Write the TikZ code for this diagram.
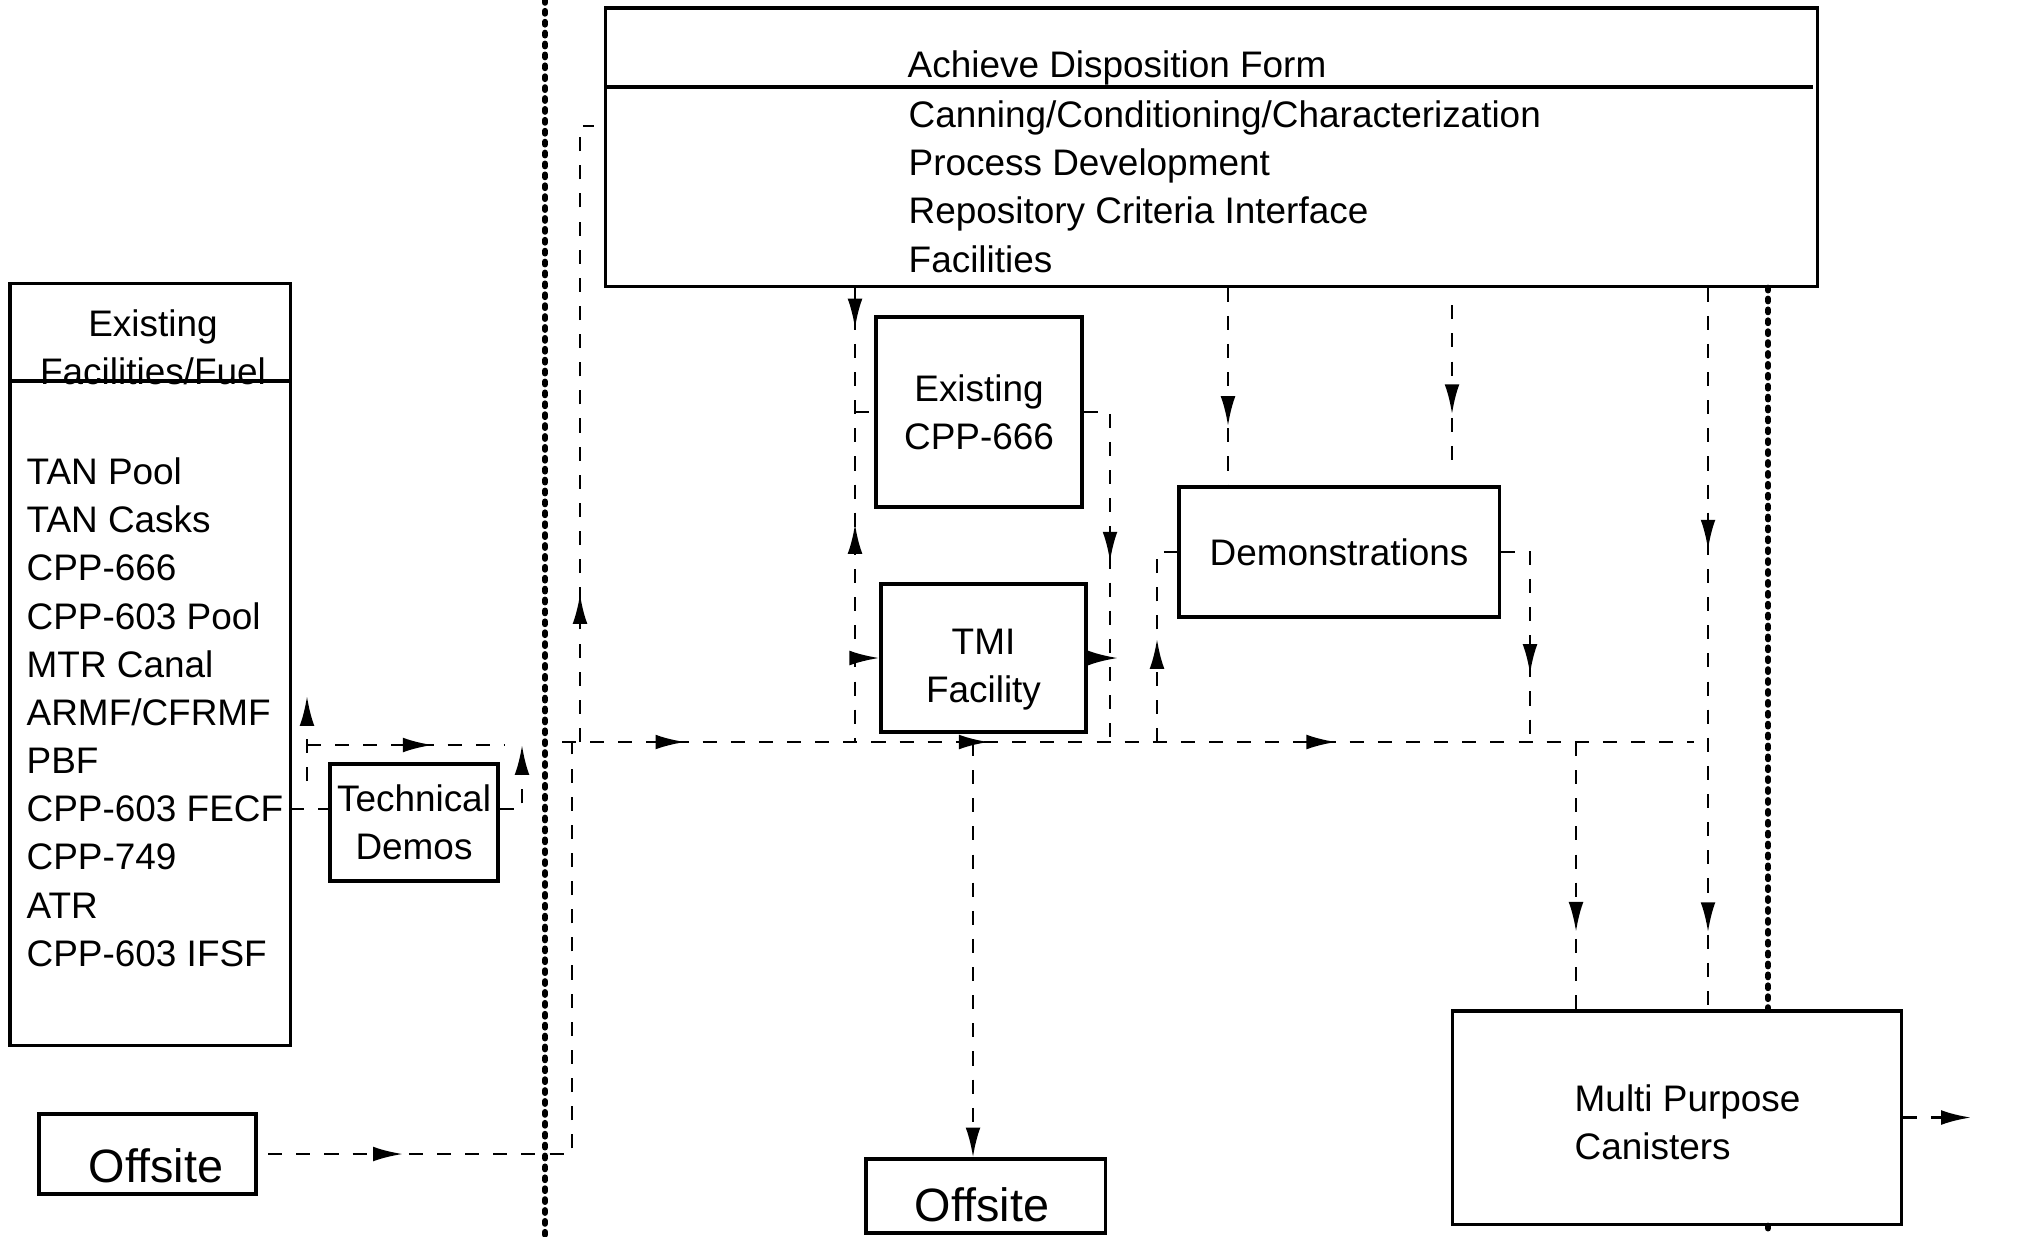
\documentclass[tikz,border=0pt]{standalone}
\usepackage{fontspec}
\setmainfont{Liberation Sans}
\usetikzlibrary{arrows.meta,decorations.markings}

\tikzset{
  box/.style={draw, line width=0.9pt, inner sep=0pt, align=center},
  flow/.style={line width=0.8pt, dash pattern=on 4pt off 4pt},
  fwd/.style={postaction={decorate,decoration={markings,mark=at position #1 with {\arrow{>}}}}},
  bwd/.style={postaction={decorate,decoration={markings,mark=at position #1 with {\arrowreversed{>}}}}},
  sep/.style={line width=1.7pt, dash pattern=on 0.8pt off 2.3pt, line cap=round},
  bigtext/.style={font=\fontsize{13.3}{16}\selectfont},
}

\begin{document}
\begin{tikzpicture}[x=0.01cm, y=-0.01cm, >={Latex[length=8.5pt,width=4.2pt]}, font=\fontsize{10.5}{13.7}\selectfont]
        \useasboundingbox (0,0) rectangle (2040,1236);

        % top box
        \node[box, minimum width=12.11cm, minimum height=2.78cm] at (1211.5,147) (top) {};
        \node[anchor=base west, inner sep=0pt] at (907,77) (title) {Achieve Disposition Form};
        \draw[line width=0.9pt] (606,87) -- (1813,87);
        \node[anchor=north west, inner sep=0pt, align=left] at (908,100) (tasks) {Canning/Conditioning/Characterization\\Process Development\\Repository Criteria Interface\\Facilities};

        % existing facilities
        \node[box, minimum width=2.8cm, minimum height=7.61cm] at (150,664.5) (fac) {};
        \node[align=center, inner sep=0pt] at (153,347) (fachead) {Existing\\Facilities/Fuel};
        \draw[line width=0.9pt] (10,381) -- (290,381);
        \node[anchor=north west, inner sep=0pt, align=left] at (26,457) (faclist) {TAN Pool\\TAN Casks\\CPP-666\\CPP-603 Pool\\MTR Canal\\ARMF/CFRMF\\PBF\\CPP-603 FECF\\CPP-749\\ATR\\CPP-603 IFSF};

        \node[box, minimum width=1.68cm, minimum height=1.17cm] at (414,822.5) (tech) {Technical\\Demos};
        \node[box, minimum width=2.17cm, minimum height=0.8cm] at (147.5,1154) (offL) {};
        \node[bigtext, inner sep=0pt] at (156,1166) (offLtxt) {Offsite};
        \node[box, minimum width=2.06cm, minimum height=1.9cm] at (979,412) (cpp) {Existing\\CPP-666};
        \node[box, minimum width=2.05cm, minimum height=1.48cm] at (983.5,658) (tmi) {};
        \node[align=center, inner sep=0pt] at (983.5,670) (tmitxt) {TMI\\Facility};
        \node[box, minimum width=3.2cm, minimum height=1.3cm] at (1339,552) (demo) {Demonstrations};
        \node[box, minimum width=4.48cm, minimum height=2.13cm] at (1677,1117.5) (mpc) {};
        \node[anchor=west, align=left, inner sep=0pt] at (1574,1122) (mpctxt) {Multi Purpose\\Canisters};
        \node[box, minimum width=2.39cm, minimum height=0.74cm] at (985.5,1196) (offB) {};
        \node[bigtext, inner sep=0pt] at (982,1205) (offBtxt) {Offsite};

        % dotted borders
        \coordinate (sepR) at (1768,1236);
        \draw[sep] (545,0) -- (545,1236);
        \draw[sep] (top.south -| sepR) -- (mpc.north -| sepR);
        \draw[sep] (mpc.south -| sepR) -- (sepR);

        % main line
        \coordinate (mainL) at (562,742);
        \coordinate (mainR) at (1694,742);
        \draw[flow, fwd=0.109, fwd=0.377, fwd=0.684] (mainL) -- (mainR);

        \coordinate (offUp) at (572,742);
        \draw[flow, fwd=0.2, shorten <=3pt] (offL.east) -| (offUp);
        \coordinate (upL) at (580,742);
        \coordinate (upT) at (594,126);
        \draw[flow, fwd=0.235] (upL) |- (upT);

        % technical demos loop
        \coordinate (facR) at (290,809);
        \draw[flow] (facR) -- (tech.west |- facR);
        \coordinate (loopB) at (307,781);
        \coordinate (loopT) at (307,696);
        \draw[flow, ->] (loopB) -- (loopT);
        \coordinate (loopL) at (307,745);
        \coordinate (loopR) at (505,745);
        \draw[flow, fwd=0.635] (loopL) -- (loopR);
        \coordinate (techUp) at (522,745);
        \draw[flow, ->] (tech.east |- facR) -| (techUp);

        % CPP-666 and TMI
        \coordinate (cppL) at (855,742);
        \draw[flow, fwd=0.09, bwd=0.52] (top.south -| cppL) -- (cppL);
        \draw[flow] (cpp.west -| cppL) -- (cpp.west);
        \draw[flow, ->] (tmi.west -| cppL) -- (tmi.west);
        \coordinate (cppR) at (1110,742);
        \draw[flow, fwd=0.494] (cpp.east) -| (cppR);
        \coordinate (tmiOut) at (1118,658);
        \draw[flow, ->] (tmi.east) -- (tmiOut);

        % demonstrations
        \coordinate (demoL) at (1157,742);
        \draw[flow, fwd=0.49] (demoL) |- (demo.west);
        \coordinate (demoR) at (1530,742);
        \draw[flow, fwd=0.69] (demo.east) -| (demoR);
        \coordinate (d1) at (1228,0);
        \draw[flow, fwd=0.7] (top.south -| d1) -- (demo.north -| d1);
        \coordinate (d2) at (1452,0);
        \draw[flow, fwd=0.64, shorten <=5pt, shorten >=5pt] (top.south -| d2) -- (demo.north -| d2);

        % canisters and offsite
        \coordinate (m1) at (1576,742);
        \draw[flow, fwd=0.71] (m1) -- (mpc.north -| m1);
        \coordinate (m2) at (1708,0);
        \draw[flow, fwd=0.363, fwd=0.893] (top.south -| m2) -- (mpc.north -| m2);
        \coordinate (mpcOut) at (1971,1117.5);
        \draw[flow, ->] (mpc.east) -- (mpcOut);
        \coordinate (offD) at (973,742);
        \draw[flow, ->] (offD) -- (offB.north -| offD);
    \end{tikzpicture}
\end{document}
